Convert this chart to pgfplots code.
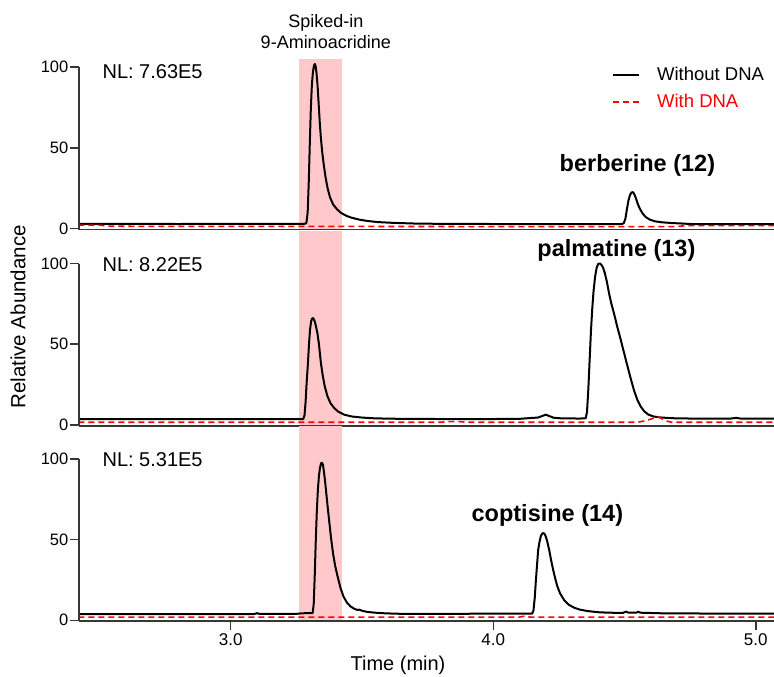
\documentclass[border=0pt]{standalone}
\usepackage{fontspec}
\setmainfont{Liberation Sans}
\usepackage{pgfplots}
\pgfplotsset{compat=1.18}
\usepackage{pgfplotstable}

\definecolor{band}{RGB}{255,201,203}
\definecolor{axgray}{RGB}{55,55,55}

% chromatograms, time (min) vs relative abundance
\pgfplotstableread{
t y
2.420 3.0
2.600 3.0
2.800 2.9
3.000 3.0
3.200 3.0
3.280 3.0
3.288 3.4
3.293 10
3.297 28
3.301 52
3.305 74
3.309 89
3.313 97
3.317 101
3.320 102
3.323 101
3.327 96
3.331 88
3.335 77
3.339 66
3.343 57
3.348 48
3.354 40
3.361 32
3.369 25
3.378 19.5
3.390 15
3.405 12
3.420 9.8
3.440 8
3.460 6.8
3.490 5.6
3.520 4.8
3.560 4.1
3.620 3.6
3.700 3.2
3.800 3.0
4.000 2.9
4.200 2.9
4.400 2.9
4.490 2.9
4.497 3.4
4.503 6
4.509 12
4.515 17.5
4.521 21
4.527 22.5
4.532 22.6
4.537 21.5
4.543 19
4.550 15.5
4.558 12.5
4.568 9.6
4.580 7.3
4.595 5.7
4.615 4.6
4.640 4.0
4.680 3.5
4.720 3.2
4.760 2.8
4.900 2.8
5.072 2.8
}\berbNo
\pgfplotstableread{
t y
2.420 2.2
2.500 2.2
2.540 1.5
3.000 1.4
3.500 1.4
4.000 1.3
4.500 1.3
4.700 1.3
4.730 1.9
5.072 1.9
}\berbDNA
\pgfplotstableread{
t y
2.420 3.6
2.800 3.6
3.000 3.6
3.200 3.6
3.276 3.6
3.281 6
3.285 14
3.289 26
3.294 38
3.298 50
3.302 59
3.306 64
3.310 66
3.314 66.2
3.318 65
3.322 63
3.326 60
3.330 57
3.336 50
3.343 39
3.350 31
3.358 24
3.368 18
3.380 13.5
3.394 10.5
3.410 8.2
3.432 6.4
3.460 5.3
3.500 4.6
3.550 4.1
3.650 3.8
3.800 3.7
4.000 3.7
4.100 3.8
4.140 4.3
4.170 4.6
4.190 5.8
4.200 6.4
4.212 5.6
4.230 4.5
4.260 4.1
4.330 4.0
4.352 4.2
4.357 8
4.362 22
4.367 40
4.372 58
4.377 72
4.382 83
4.388 92
4.394 97.5
4.400 99.8
4.406 100
4.412 99.2
4.418 97.5
4.425 94
4.433 88.5
4.441 81.5
4.450 75
4.460 69
4.472 61
4.486 52.5
4.500 43.5
4.511 36.5
4.524 28.5
4.536 21.5
4.549 15.5
4.562 11.3
4.575 8.5
4.590 6.5
4.610 5.3
4.635 4.7
4.680 4.2
4.750 4.0
4.900 3.9
4.925 4.4
4.945 3.9
5.072 3.9
}\palmNo
\pgfplotstableread{
t y
2.420 1.7
3.000 1.7
3.800 1.7
3.830 2.1
3.870 2.1
3.900 1.7
4.550 1.7
4.575 2.5
4.600 3.6
4.615 4.6
4.624 5.2
4.635 4.5
4.650 3.2
4.665 2.2
4.680 1.7
5.072 1.7
}\palmDNA
\pgfplotstableread{
t y
2.420 3.8
2.800 3.8
3.000 3.9
3.090 3.9
3.100 4.4
3.110 3.9
3.250 4.0
3.270 4.3
3.300 4.5
3.312 4.5
3.316 10
3.320 28
3.324 50
3.328 68
3.332 81
3.336 89.5
3.340 94.5
3.344 97.2
3.347 97.6
3.351 96.5
3.355 92
3.360 85
3.365 77
3.370 69
3.376 60
3.382 51
3.390 41
3.398 33.5
3.408 26.5
3.418 20
3.430 14.5
3.443 10.8
3.457 8.5
3.472 7
3.483 6.4
3.490 6.6
3.500 5.9
3.520 5.2
3.550 4.7
3.590 4.3
3.650 4.0
3.800 4.0
4.000 4.1
4.148 4.1
4.153 6
4.158 14
4.162 24
4.167 35
4.171 43.5
4.176 48.5
4.181 52
4.186 53.7
4.191 54
4.196 53.3
4.201 51.5
4.206 48.5
4.213 43.5
4.220 37.5
4.227 32
4.235 26.5
4.244 21
4.255 16.5
4.270 12.5
4.288 9.6
4.308 7.8
4.330 6.6
4.360 5.7
4.400 5.0
4.440 4.7
4.495 4.6
4.505 5.4
4.515 4.7
4.545 4.7
4.552 5.3
4.560 4.7
4.650 4.3
4.800 4.2
5.072 4.2
}\coptNo
\pgfplotstableread{
t y
2.420 2.0
3.300 2.0
4.100 2.0
4.120 2.6
4.140 2.0
5.072 2.0
}\coptDNA

\tikzset{
  lbl/.style={inner sep=0pt, font=\fontsize{20}{24}\selectfont},
  cmp/.style={inner sep=0pt, font=\fontsize{23.5}{28}\selectfont\bfseries},
}
\pgfplotsset{
  chrom/.style={
    scale only axis, width=695.7pt, height=162.3pt,
    xmin=2.422, xmax=5.072, ymin=-0.5, ymax=100,
    enlargelimits=false, clip=false, axis on top,
    axis x line=bottom, axis y line=left,
    x axis line style={-, line width=1.8pt, axgray},
    y axis line style={-, line width=2pt, axgray},
    ytick={0,50,100}, xtick=\empty,
    tick align=outside, major tick length=9pt,
    tick style={line width=1.5pt, axgray},
    /pgf/number format/assume math mode=true,
    yticklabel style={font=\fontsize{16.5}{19}\selectfont, inner sep=1.5pt},
    anchor=south west,
  },
  noDNA/.style={black, line width=2pt, line join=round},
  withDNA/.style={red, line width=1.6pt, dash pattern=on 6pt off 4pt},
}

\begin{document}
\begin{tikzpicture}
\path[use as bounding box] (0pt,0pt) rectangle (774pt,-677pt);

% top: berberine
\begin{axis}[chrom, at={(79pt,-229.5pt)},
  legend style={draw=none, fill=none, at={(axis cs:4.4406,102.4)}, anchor=north west,
    font=\fontsize{18.5}{22}\selectfont, cells={anchor=west}, row sep=8pt,
    /tikz/every odd column/.append style={column sep=15pt}},
  legend image code/.code={\draw[#1] (0pt,0pt) -- (26pt,0pt);},
]
\addplot[fill=band, draw=none, forget plot] coordinates {(3.260,-0.5) (3.260,104.9) (3.423,104.9) (3.423,-0.5)} -- cycle;
\addplot[noDNA] table[x=t, y=y] {\berbNo};
\addlegendentry{Without DNA}
\addplot[withDNA] table[x=t, y=y] {\berbDNA};
\addlegendentry{\textcolor{red}{With DNA}}
\coordinate (lo1) at (axis cs:2.422,-0.5);
\coordinate (hi1) at (axis cs:2.422,100);
\node[lbl, anchor=west] at (axis cs:2.511,97) {NL: 7.63E5};
\node[cmp] at (axis cs:4.549,39.4) {berberine (12)};
\node[inner sep=0pt, align=center, font=\fontsize{18}{20.5}\selectfont] at (axis cs:3.362,122) {Spiked-in\\9-Aminoacridine};
\end{axis}

% middle: palmatine
\begin{axis}[chrom, at={(79pt,-425.8pt)}]
\addplot[fill=band, draw=none] coordinates {(3.260,-0.5) (3.260,120.3) (3.423,120.3) (3.423,-0.5)} -- cycle;
\addplot[noDNA] table[x=t, y=y] {\palmNo};
\addplot[withDNA] table[x=t, y=y] {\palmDNA};
\coordinate (lo2) at (axis cs:2.422,-0.5);
\coordinate (hi2) at (axis cs:2.422,100);
\node[lbl, anchor=west] at (axis cs:2.511,99.1) {NL: 8.22E5};
\node[cmp] at (axis cs:4.469,108.4) {palmatine (13)};
\end{axis}

% bottom: coptisine
\begin{axis}[chrom, at={(79pt,-621.1pt)},
  xtick={3,4,5}, xticklabels={3.0,4.0,5.0},
  xticklabel style={font=\fontsize{17}{20}\selectfont},
]
\addplot[fill=band, draw=none] coordinates {(3.260,-0.5) (3.260,120.3) (3.423,120.3) (3.423,-0.5)} -- cycle;
\addplot[noDNA] table[x=t, y=y] {\coptNo};
\addplot[withDNA] table[x=t, y=y] {\coptDNA};
\coordinate (lo3) at (axis cs:2.422,-0.5);
\coordinate (hi3) at (axis cs:2.422,100);
\node[lbl, anchor=west] at (axis cs:2.511,99.3) {NL: 5.31E5};
\node[cmp] at (axis cs:4.206,65.2) {coptisine (14)};
\end{axis}

% y axis lines as thin filled strips, drawn last
\fill[axgray] ([xshift=-1.1pt]lo1) rectangle ([xshift=1.1pt]hi1);
\fill[axgray] ([xshift=-1.1pt]lo2) rectangle ([xshift=1.1pt]hi2);
\fill[axgray] ([xshift=-1.1pt]lo3) rectangle ([xshift=1.1pt]hi3);

\node[lbl, rotate=90, font=\fontsize{20.5}{24}\selectfont] at (18pt,-317pt) {Relative Abundance};
\node[lbl] at (398pt,-665pt) {Time (min)};
\end{tikzpicture}
\end{document}
